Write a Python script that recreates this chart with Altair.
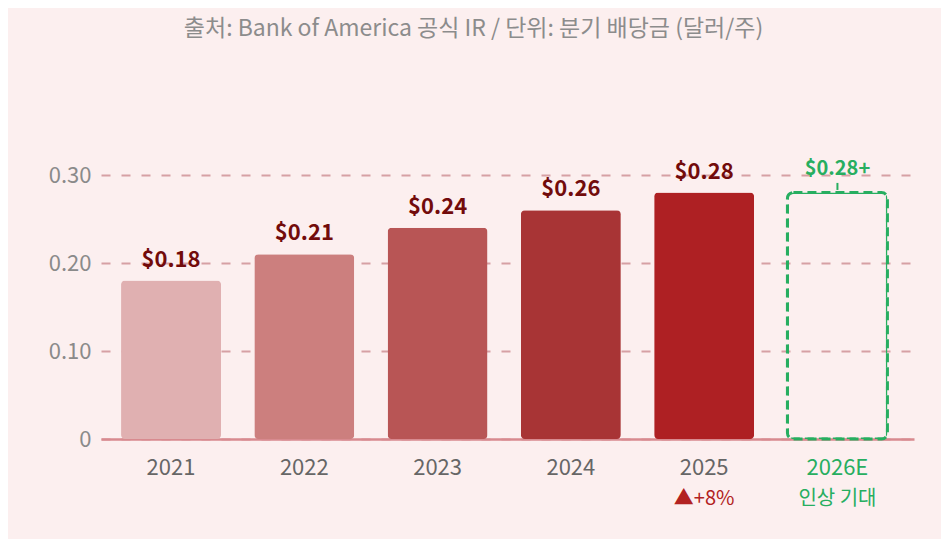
import altair as alt
import pandas as pd

years = ["2021", "2022", "2023", "2024", "2025", "2026E"]
values = [0.18, 0.21, 0.24, 0.26, 0.28, 0.28]
value_labels = ["$0.18", "$0.21", "$0.24", "$0.26", "$0.28", "$0.28+"]
bar_colors = ["#e0b0b1", "#cc7f7e", "#b85555", "#a83435", "#ae2023", "#27ae60"]
label_colors = ["#720b0b", "#720b0b", "#720b0b", "#720b0b", "#720b0b", "#27ae60"]
notes = ["", "", "", "", "▲+8%", "인상 기대"]
note_colors = ["#b22222", "#b22222", "#b22222", "#b22222", "#b22222", "#27ae60"]
y_ticks = [0, 0.1, 0.2, 0.3]
# short connector between the estimate label and its box
lead_from = [0.283]
lead_to = [0.291]

FONT = "Noto Sans CJK KR"
GREEN = "#27ae60"
W, H = 813, 308

df = pd.DataFrame({
    "year": years, "value": values, "label": value_labels,
    "color": bar_colors, "lcolor": label_colors,
    "note": notes, "ncolor": note_colors,
    "est": [False] * 5 + [True],
})
lead_df = pd.DataFrame({"year": ["2026E"], "y1": lead_from, "y2": lead_to})

x_enc = alt.X(
    "year:N", sort=years, title=None,
    scale=alt.Scale(paddingInner=0.25, paddingOuter=0.175, align=0.43),
    axis=alt.Axis(
        labelAngle=0, labelFont=FONT, labelFontSize=22,
        labelColor={"expr": "datum.value == '2026E' ? '#27ae60' : '#666666'"},
        labelPadding=18, ticks=False, domain=True,
        domainColor="#d88a8f", domainWidth=2.5,
    ),
)
y_enc = alt.Y(
    "value:Q", title=None,
    scale=alt.Scale(domain=[0, 0.35], nice=False),
    axis=alt.Axis(
        values=y_ticks, labelFont=FONT, labelFontSize=22, labelColor="#8a8a8a",
        labelExpr="datum.value == 0 ? '0' : format(datum.value, '.2f')",
        labelPadding=10, ticks=False, domain=False,
        grid=True, gridColor="#d6a0a4", gridWidth=2, gridDash=[9, 11],
    ),
)

base = alt.Chart(df).encode(x=x_enc)

bars = base.transform_filter("!datum.est").mark_bar(
    cornerRadius=4, size=100
).encode(y=y_enc, color=alt.Color("color:N", scale=None))

box = base.transform_filter("datum.est").mark_bar(
    cornerRadius=6, size=100, fillOpacity=0, stroke=GREEN,
    strokeWidth=3, strokeDash=[9, 5]
).encode(y=alt.Y("value:Q"))

lead = alt.Chart(lead_df).mark_rule(color=GREEN, strokeWidth=2).encode(
    x=alt.X("year:N", sort=years), y="y1:Q", y2="y2:Q"
)

labels = base.transform_filter("!datum.est").mark_text(
    font=FONT, fontSize=22, fontWeight="bold", baseline="alphabetic", dy=-14
).encode(y=alt.Y("value:Q"), text="label:N", color=alt.Color("lcolor:N", scale=None))

est_label = base.transform_filter("datum.est").mark_text(
    font=FONT, fontSize=20, fontWeight="bold", baseline="alphabetic", dy=-18
).encode(y=alt.Y("value:Q"), text="label:N", color=alt.Color("lcolor:N", scale=None))

note_text = base.transform_filter("datum.note != ''").mark_text(
    font=FONT, fontSize=20, baseline="middle"
).encode(y=alt.value(H + 60), text="note:N", color=alt.Color("ncolor:N", scale=None))

chart = alt.layer(bars, box, lead, labels, est_label, note_text).properties(
    width=W, height=H,
    title=alt.TitleParams(
        "출처: Bank of America 공식 IR / 단위: 분기 배당금 (달러/주)",
        anchor="middle", dx=-34, offset=90, font=FONT, fontSize=23,
        fontWeight="normal", color="#8c8c8c",
    ),
    background="#fcefef",
    padding={"left": 93, "top": 123, "right": 27, "bottom": 100},
    autosize=alt.AutoSizeParams(type="none"),
).configure_view(stroke=None)

chart.save("out.html", embed_options={"renderer": "svg", "actions": False})
